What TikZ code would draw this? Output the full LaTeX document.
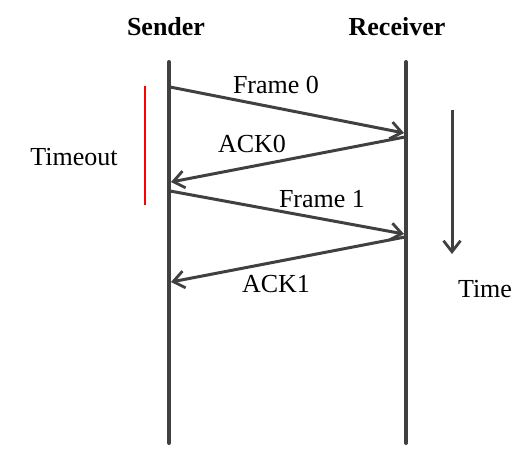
\documentclass[tikz,border=0pt]{standalone}
\usepackage{fontspec}
\setmainfont{Liberation Serif}
\usetikzlibrary{arrows.meta}

\tikzset{
	lifeline/.style={draw={rgb,255:red,64;green,64;blue,64}, line width=4pt, line cap=round},
	msg/.style={draw={rgb,255:red,64;green,64;blue,64}, line width=3pt,
		-{Straight Barb[length=11pt,width=17pt,line width=2.8pt]}},
	lbl/.style={inner sep=0.75pt, font=\fontsize{26}{30}\selectfont},
}

\begin{document}
\begin{tikzpicture}[x=1pt,y=1pt,yscale=-1,xscale=1]
	\useasboundingbox (0,0) rectangle (532,465);
	
	% lifelines
	\coordinate (sTop) at (169,62);
	\coordinate (sBot) at (169,443);
	\coordinate (rTop) at (406,62);
	\coordinate (rBot) at (406,443);
	\draw [lifeline] (sTop) -- (sBot);
	\draw [lifeline] (rTop) -- (rBot);
	
	% message end points
	\coordinate (f0s) at (170,87);
	\coordinate (f0r) at (404,133);
	\coordinate (a0r) at (405,137);
	\coordinate (a0s) at (171,182);
	\coordinate (f1s) at (170,191);
	\coordinate (f1r) at (404,234);
	\coordinate (a1r) at (405,237);
	\coordinate (a1s) at (171,282);
	
	\draw [msg] (f0s) -- (f0r);
	\draw [msg] (a0r) -- (a0s);
	\draw [msg] (f1s) -- (f1r);
	\draw [msg] (a1r) -- (a1s);
	
	% timeout bar
	\coordinate (toTop) at (145,86);
	\coordinate (toBot) at (145,205);
	\draw [color=red, line width=2pt] (toTop) -- (toBot);
	
	% time arrow
	\coordinate (tTop) at (452,110);
	\coordinate (tBot) at (452,254);
	\draw [msg] (tTop) -- (tBot);
	
	% Text Node
	\node [lbl, font=\fontsize{26}{30}\selectfont\bfseries] (sender) at (166,27) {Sender};
	% Text Node
	\node [lbl, font=\fontsize{26}{30}\selectfont\bfseries] (receiver) at (397,27) {Receiver};
	% Text Node
	\node [lbl] (frame0) at (276,85) {Frame 0};
	% Text Node
	\node [lbl] (ack0) at (252,144) {ACK0};
	% Text Node
	\node [lbl] (frame1) at (322,199) {Frame 1};
	% Text Node
	\node [lbl] (ack1) at (276,284) {ACK1};
	% Text Node
	\node [lbl] (timeout) at (74,157) {Timeout};
	% Text Node
	\node [lbl] (time) at (485,289) {Time};
\end{tikzpicture}
\end{document}
